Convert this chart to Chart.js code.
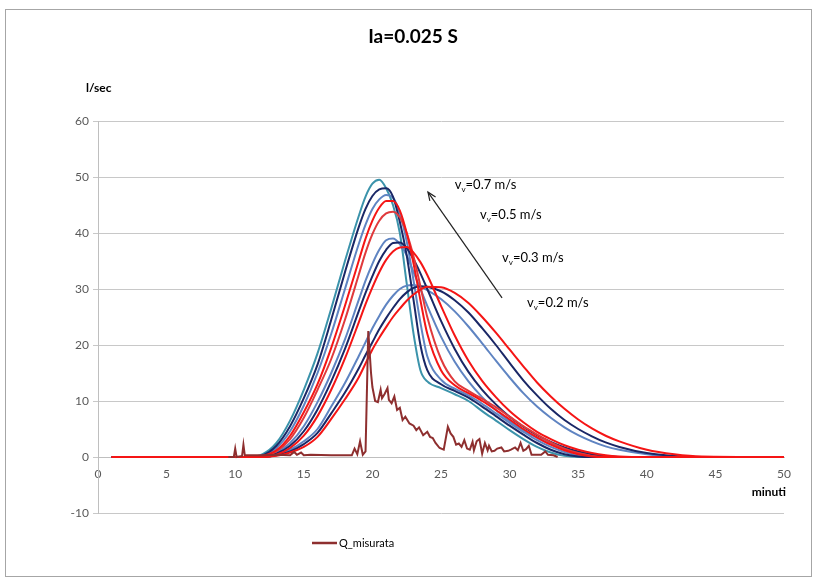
<!DOCTYPE html>
<html>
<head>
<meta charset="utf-8">
<script src="https://cdn.jsdelivr.net/npm/chart.js@4.4.1/dist/chart.umd.min.js"></script>
<style>
  html, body { margin: 0; padding: 0; background: #fff; }
  #wrap { position: relative; width: 814px; height: 578px; }
  #wrap canvas { position: absolute; left: 0; top: 0; }
  #frame { position: absolute; left: 5px; top: 9px; width: 807px; height: 568px;
           border: 1px solid #a6a6a6; box-sizing: border-box; pointer-events: none; }
</style>
</head>
<body>
<div id="wrap">
  <canvas id="chart" width="814" height="578"></canvas>
  <div id="frame"></div>
</div>
<script>
// time axis (minutes) shared by the simulated hydrographs
const minutes = [1, 11, 12, 13, 14, 15, 16, 17, 18, 19, 19.5, 20, 20.5, 21, 21.5, 22, 22.5, 23, 23.5, 24,
                 25, 26, 27, 28, 29, 30, 31, 32, 33, 34, 35, 36, 37, 38, 40, 42, 44, 50];

// highest group of simulated curves
const hiTeal  = [0, 0, 0.5, 2.5, 6.5, 12, 18.5, 26.5, 35, 43, 46.5, 48.8, 49.5, 48, 45, 40, 31, 22, 15.5, 13.5,
                 12.3, 11.2, 10, 8.2, 6.5, 4.8, 3.2, 1.8, 0.8, 0.2, 0, 0, 0, 0, 0, 0, 0, 0];
const hiNavy  = [0, 0, 0.3, 2, 5.5, 10.5, 16.5, 24.5, 33, 41, 44.3, 46.6, 47.8, 48, 46.5, 42, 36, 28, 20, 15.5,
                 13, 11.8, 10.6, 9, 7.3, 5.6, 4, 2.5, 1.3, 0.5, 0.1, 0, 0, 0, 0, 0, 0, 0];
const hiSteel = [0, 0, 0.2, 1.6, 4.6, 9.2, 15, 22, 30, 38, 41.5, 44.3, 46, 46.8, 46.3, 43.5, 38.5, 31.5, 24, 18,
                 13.8, 12.2, 11, 9.5, 7.8, 6.1, 4.5, 3, 1.8, 0.9, 0.3, 0, 0, 0, 0, 0, 0, 0];
const hiRed   = [0, 0, 0.2, 1.2, 3.8, 8, 13, 19.5, 27, 35, 39, 42.2, 44.5, 45.7, 45.7, 44, 40, 34.5, 28, 22,
                 15.5, 12.8, 11.4, 10, 8.4, 6.7, 5, 3.5, 2.2, 1.2, 0.5, 0.1, 0, 0, 0, 0, 0, 0];
const hiRed2  = [0, 0, 0.1, 1, 3.2, 7, 12, 17.5, 24.5, 32.5, 36.5, 39.8, 42.2, 43.5, 43.8, 42.8, 40, 35.8, 30.5, 25,
                 17.5, 13.5, 11.8, 10.4, 8.9, 7.2, 5.5, 4, 2.6, 1.5, 0.7, 0.2, 0, 0, 0, 0, 0, 0];

// middle group
const midSteel = [0, 0, 0.1, 0.8, 2.5, 5.5, 9.8, 15, 21, 28, 31.5, 34.5, 37, 38.7, 39, 38, 36, 33, 30, 27,
                  21.5, 17, 13.5, 10.7, 8.4, 6.4, 4.8, 3.4, 2.3, 1.4, 0.8, 0.4, 0.1, 0, 0, 0, 0, 0];
const midNavy  = [0, 0, 0.1, 0.6, 2, 4.6, 8.5, 13.5, 19.3, 26, 29.3, 32.3, 35, 37, 38.2, 38.3, 37.3, 35.3, 32.8, 30,
                  24.3, 19.3, 15.2, 12, 9.4, 7.2, 5.4, 3.9, 2.7, 1.7, 1, 0.5, 0.2, 0, 0, 0, 0, 0];
const midRed   = [0, 0, 0, 0.4, 1.6, 3.8, 7.3, 12, 17.6, 24, 27.3, 30.3, 33, 35.2, 36.7, 37.4, 37.5, 36.5, 34.8, 32.5,
                  27, 21.7, 17.2, 13.6, 10.7, 8.2, 6.2, 4.5, 3.2, 2.1, 1.3, 0.7, 0.3, 0.1, 0, 0, 0, 0];

// lowest, widest group
const loSteel = [0, 0, 0, 0.4, 1.3, 2.8, 5, 9, 13.2, 18, 20.5, 23, 25.2, 27.2, 28.8, 30, 30.6, 30.7, 30.4, 29.8,
                 28.2, 26, 23.3, 20.3, 17.2, 14.2, 11.4, 9, 7, 5.3, 3.9, 2.8, 1.9, 1.3, 0.5, 0.1, 0, 0];
const loNavy  = [0, 0, 0, 0.3, 1, 2.3, 4.3, 7.8, 11.5, 15.8, 18.2, 20.5, 22.8, 24.8, 26.6, 28.2, 29.4, 30.2, 30.5, 30.4,
                 29.6, 28, 25.8, 23, 20, 16.8, 13.7, 11, 8.6, 6.6, 5, 3.7, 2.6, 1.8, 0.7, 0.2, 0, 0];
const loRed   = [0, 0, 0, 0.2, 0.8, 1.8, 3.6, 6.8, 10.3, 14.2, 16.7, 19.2, 21.3, 23.2, 25, 26.5, 27.9, 29, 29.9, 30.4,
                 30.3, 29.3, 27.5, 25, 22.2, 19.2, 16.2, 13.3, 10.8, 8.6, 6.7, 5.1, 3.8, 2.8, 1.3, 0.5, 0.1, 0];

// measured discharge
const measMin = [9.5, 9.9, 10, 10.1, 10.5, 10.6, 10.7, 10.8, 12, 13, 14, 14.3, 14.5, 14.8, 15, 15.5, 17, 18.5, 18.7, 18.9,
                 19.1, 19.3, 19.5, 19.7, 19.9, 20, 20.2, 20.4, 20.6, 20.7, 20.9, 21.1, 21.2, 21.4, 21.6, 21.8, 22, 22.2, 22.4, 22.7,
                 23, 23.2, 23.4, 23.7, 24, 24.2, 24.4, 24.6, 24.9, 25.2, 25.5, 25.7, 25.9, 26.1, 26.3, 26.5, 26.7, 26.9, 27.1, 27.3,
                 27.4, 27.6, 27.8, 28, 28.2, 28.4, 28.5, 28.7, 28.9, 29.1, 29.4, 29.6, 29.9, 30.1, 30.4, 30.6, 30.8, 31, 31.2, 31.4,
                 31.6, 32, 32.3, 32.6, 32.8, 33.2, 33.5];
const measQ   = [0, 0, 1.5, 0, 0.2, 2.2, 0.3, 0.3, 0.3, 0.4, 0.3, 0.9, 0.4, 0.8, 0.3, 0.4, 0.3, 0.3, 1.5, 0.5,
                 2.8, 0.4, 1, 22.5, 15, 12.5, 10, 9.8, 12, 10.5, 11.3, 12.3, 10.2, 9.6, 10.8, 8.4, 8.8, 6.6, 7.2, 6,
                 5.6, 4.8, 5.3, 3.9, 4.5, 3.6, 3.4, 2.5, 1.6, 1.3, 5.4, 4.2, 3.6, 2.2, 2.4, 1.8, 3, 1.5, 1.3, 2.7,
                 1.2, 2.8, 3.2, 0.6, 2.5, 1.2, 2, 1, 1.1, 1.5, 1.7, 1, 1.1, 1.3, 1.7, 1.2, 2.5, 1.1, 1.4, 2,
                 0.4, 0.4, 0.4, 1, 0.4, 0.3, 0];

const yTicks = [-10, 0, 10, 20, 30, 40, 50, 60];
const speedLabels = ['0.7', '0.5', '0.3', '0.2'];

const TEAL = '#3B93AB', NAVY = '#1A2766', STEEL = '#5F84C2', RED = '#F51515', RED2 = '#E03A3C';
const MEAS = '#8E2F2F';

const toPoints = (xs, ys) => xs.map((x, i) => ({ x: x, y: ys[i] }));

function model(ys, color) {
    return {
        data: toPoints(minutes, ys),
        borderColor: color,
        borderWidth: 2,
        pointRadius: 0,
        cubicInterpolationMode: 'monotone',
        fill: false
    };
}

// first dataset is drawn on top
const datasets = [
    { label: 'Q_misurata', data: toPoints(measMin, measQ), borderColor: MEAS, borderWidth: 2,
      pointRadius: 0, tension: 0, fill: false },
    model(hiRed, RED), model(midRed, RED), model(loRed, RED),
    model(hiRed2, RED2),
    model(hiNavy, NAVY), model(midNavy, NAVY), model(loNavy, NAVY),
    model(hiSteel, STEEL), model(midSteel, STEEL), model(loSteel, STEEL),
    model(hiTeal, TEAL)
];

// where the hand-written notes sit, in data units
const notePos = [[26.0, 47.9], [27.84, 42.5], [29.45, 34.8], [31.27, 26.8]];
const arrowFrom = [29.45, 28.4], arrowTo = [24.05, 47.3];

const overlay = {
    id: 'overlay',
    afterDraw(chart) {
        const { ctx, scales: { x, y } } = chart;
        ctx.save();
        ctx.fillStyle = '#000';
        ctx.textBaseline = 'alphabetic';

        ctx.font = 'bold 19px Lato';
        ctx.textAlign = 'center';
        ctx.fillText('Ia=0.025 S', 413, 43);

        ctx.textAlign = 'left';
        ctx.font = 'bold 12px Lato';
        ctx.fillText('l/sec', 86, 92);
        ctx.textAlign = 'right';
        ctx.fillText('minuti', 786, 496);

        // legend
        ctx.strokeStyle = MEAS;
        ctx.lineWidth = 2.5;
        ctx.beginPath();
        ctx.moveTo(312, 543);
        ctx.lineTo(337, 543);
        ctx.stroke();
        ctx.textAlign = 'left';
        ctx.font = '11px Lato';
        ctx.fillStyle = '#000';
        ctx.fillText('Q_misurata', 339, 547);

        // speed notes
        notePos.forEach((p, i) => {
            let px = x.getPixelForValue(p[0]);
            const py = y.getPixelForValue(p[1]);
            ctx.font = '13px Lato';
            ctx.fillText('v', px, py);
            px += ctx.measureText('v').width;
            ctx.font = '8px Lato';
            ctx.fillText('v', px, py + 3);
            px += ctx.measureText('v').width;
            ctx.font = '13px Lato';
            ctx.fillText('=' + speedLabels[i] + ' m/s', px, py);
        });

        // arrow
        const x0 = x.getPixelForValue(arrowFrom[0]), y0 = y.getPixelForValue(arrowFrom[1]);
        const x1 = x.getPixelForValue(arrowTo[0]), y1 = y.getPixelForValue(arrowTo[1]);
        ctx.strokeStyle = '#222';
        ctx.lineWidth = 1.2;
        ctx.beginPath();
        ctx.moveTo(x0, y0);
        ctx.lineTo(x1, y1);
        ctx.stroke();
        const a = Math.atan2(y1 - y0, x1 - x0);
        ctx.beginPath();
        ctx.moveTo(x1 - 9 * Math.cos(a - 0.4), y1 - 9 * Math.sin(a - 0.4));
        ctx.lineTo(x1, y1);
        ctx.lineTo(x1 - 9 * Math.cos(a + 0.4), y1 - 9 * Math.sin(a + 0.4));
        ctx.stroke();
        ctx.restore();
    }
};

Chart.defaults.font.family = 'Lato, "Open Sans", sans-serif';

new Chart(document.getElementById('chart'), {
    type: 'line',
    data: { datasets: datasets },
    plugins: [overlay],
    options: {
        responsive: false,
        animation: false,
        events: [],
        layout: { padding: { left: 58, right: 30, top: 121, bottom: 65 } },
        scales: {
            x: {
                type: 'linear',
                min: 0,
                max: 50,
                position: { y: 0 },
                grid: { display: false },
                border: { color: '#BFBFBF' },
                ticks: { stepSize: 5, color: '#595959', font: { size: 12 }, padding: 2, maxRotation: 0 }
            },
            y: {
                min: -10,
                max: 60,
                afterBuildTicks: s => { s.ticks = yTicks.map(v => ({ value: v })); },
                afterFit: s => { s.width = 40; },
                grid: { color: '#C8C8C8', tickLength: 5 },
                border: { color: '#BFBFBF' },
                ticks: { color: '#595959', font: { size: 12 }, padding: 4 }
            }
        },
        plugins: {
            legend: { display: false },
            tooltip: { enabled: false }
        }
    }
});
</script>
</body>
</html>
